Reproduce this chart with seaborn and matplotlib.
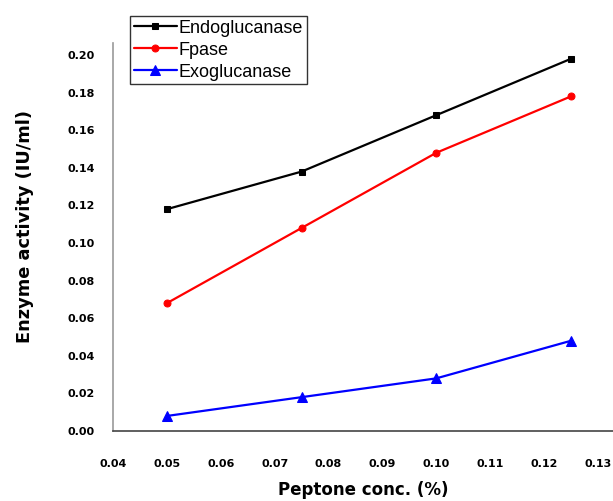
import matplotlib
matplotlib.use("Agg")
import matplotlib.pyplot as plt
import seaborn as sns
import pandas as pd

peptone = [0.05, 0.075, 0.10, 0.125]
endoglucanase = [0.118, 0.138, 0.168, 0.198]
fpase = [0.068, 0.108, 0.148, 0.178]
exoglucanase = [0.008, 0.018, 0.028, 0.048]
series_names = ["Endoglucanase", "Fpase", "Exoglucanase"]
x_ticks = [0.04, 0.05, 0.06, 0.07, 0.08, 0.09, 0.10, 0.11, 0.12, 0.13]
y_ticks = [0.00, 0.02, 0.04, 0.06, 0.08, 0.10, 0.12, 0.14, 0.16, 0.18, 0.20]

df = pd.DataFrame({
    "x": peptone * 3,
    "y": endoglucanase + fpase + exoglucanase,
    "series": [s for s in series_names for _ in peptone],
})

sns.set_style("white")
plt.rcParams["font.family"] = ["DejaVu Sans"]

fig = plt.figure(figsize=(6.13, 5.01), dpi=100)
ax = fig.add_axes([113 / 613, 1 - 431 / 501, 1 - 113 / 613, (431 - 43) / 501])

colors = {"Endoglucanase": "#000000", "Fpase": "#ff0000", "Exoglucanase": "#0000ff"}
markers = {"Endoglucanase": "s", "Fpase": "o", "Exoglucanase": "^"}
sizes = {"Endoglucanase": 5, "Fpase": 5, "Exoglucanase": 6.5}

for name in series_names:
    sub = df[df["series"] == name]
    sns.lineplot(data=sub, x="x", y="y", ax=ax, color=colors[name],
                 marker=markers[name], markersize=sizes[name],
                 markeredgecolor=colors[name], linewidth=1.6, label=name)

ax.set_xlim(0.04, 0.1328)
ax.set_ylim(0.0, 0.2064)
ax.set_xticks(x_ticks)
ax.set_yticks(y_ticks)
ax.set_xticklabels([f"{v:.2f}" for v in x_ticks], fontsize=8, fontweight="bold", color="black")
ax.set_yticklabels([f"{v:.2f}" for v in y_ticks], fontsize=8, fontweight="bold", color="black")
ax.tick_params(axis="both", length=0)
ax.tick_params(axis="x", pad=20)
ax.tick_params(axis="y", pad=13)

for s in ["top", "right"]:
    ax.spines[s].set_visible(False)
ax.spines["left"].set_color("#999999")
ax.spines["bottom"].set_color("#444444")
ax.spines["left"].set_linewidth(1.2)
ax.spines["bottom"].set_linewidth(1.2)

ax.set_xlabel("Peptone conc. (%)", fontsize=12, fontweight="bold", labelpad=9, color="black")
ax.set_ylabel("Enzyme activity (IU/ml)", fontsize=12.8, fontweight="bold", color="black")
ax.yaxis.set_label_coords((34 - 113) / 500, (431 - 227) / 388)

ax.get_legend().remove()
handles, labels = ax.get_legend_handles_labels()
leg = fig.legend(handles, labels, loc="upper left",
                 bbox_to_anchor=(130 / 613, 1 - 16 / 501),
                 bbox_transform=fig.transFigure,
                 prop={"family": "Liberation Sans", "size": 13},
                 frameon=True, fancybox=False, edgecolor="#000000",
                 handlelength=2.4, handletextpad=0.1, labelspacing=0.28,
                 borderpad=0.2, borderaxespad=0)
leg.get_frame().set_linewidth(1.0)
for t in leg.get_texts():
    t.set_color("black")

fig.savefig("out.png", dpi=100)
